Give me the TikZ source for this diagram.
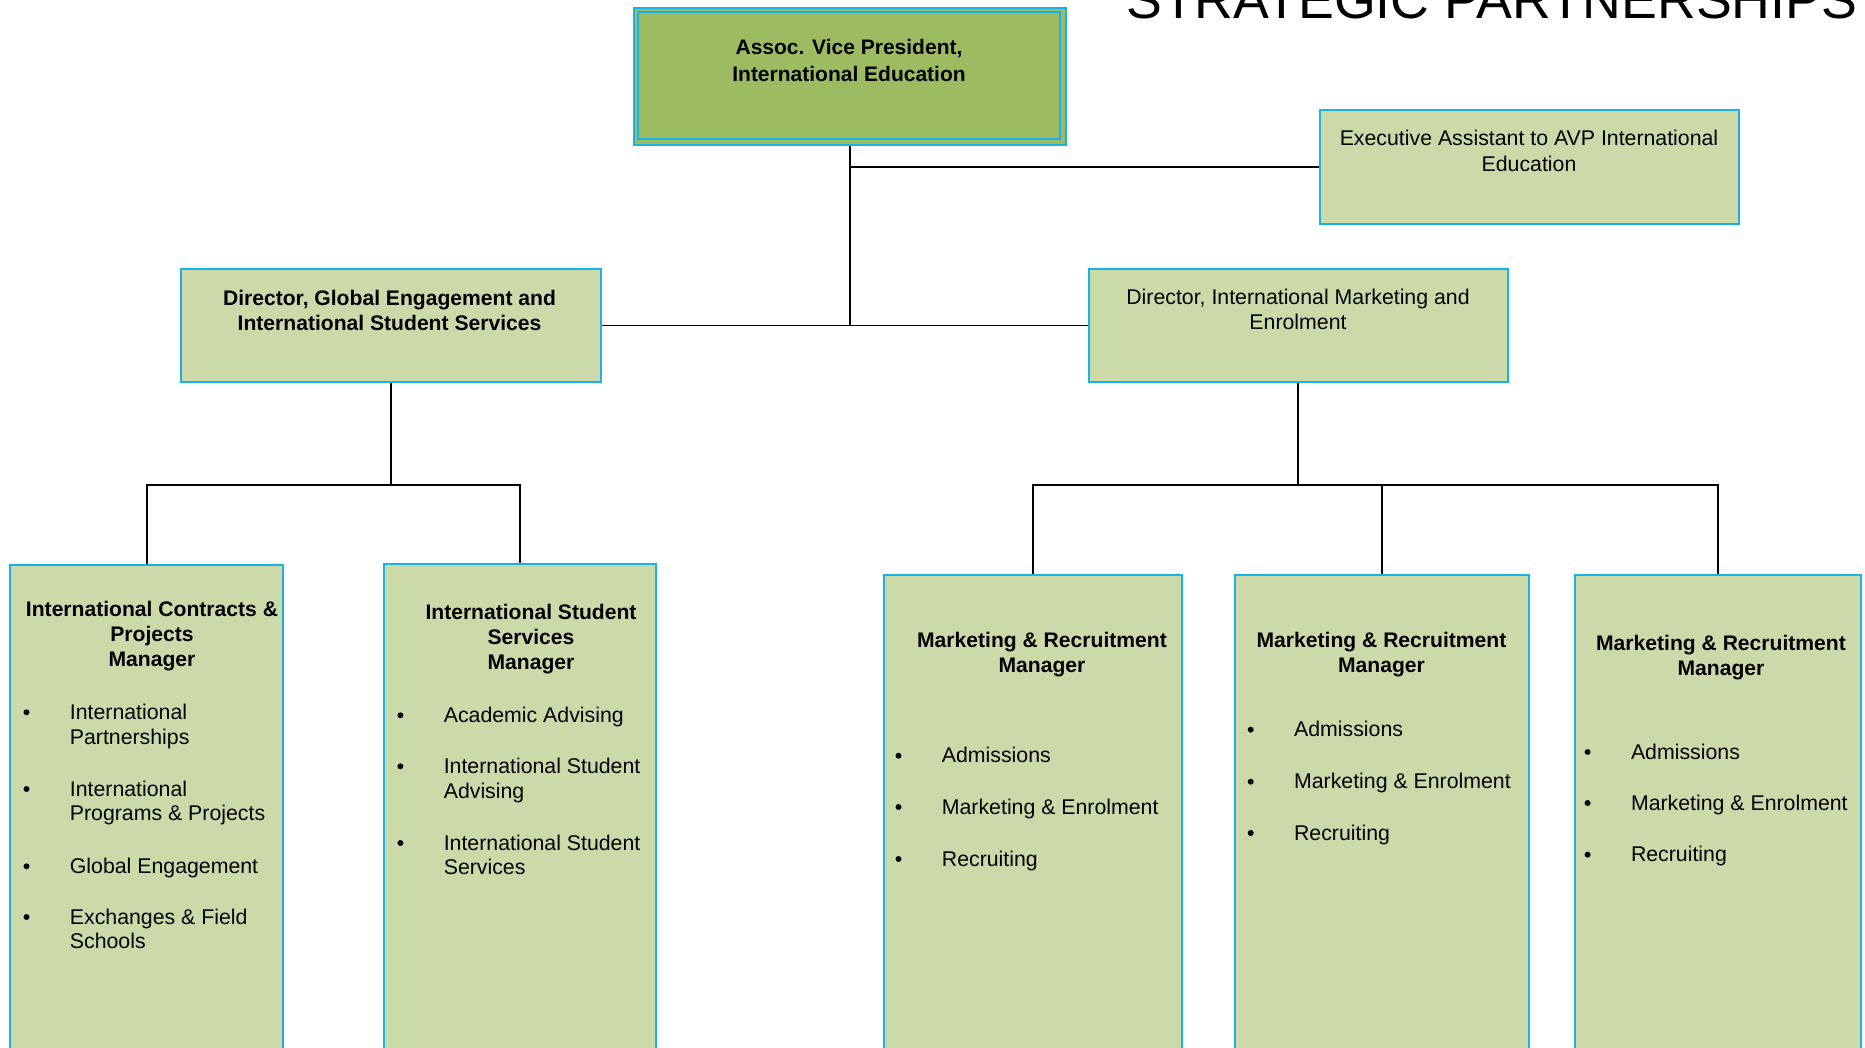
\documentclass[tikz,border=0pt]{standalone}
\usepackage{fontspec}
\setmainfont{Liberation Sans}
\definecolor{boxfill}{RGB}{204,218,170}
\definecolor{avpfill}{RGB}{157,187,97}
\definecolor{boxline}{RGB}{24,178,234}
\newcommand\linesC[1]{\begin{tabular}[t]{@{}c@{}}#1\end{tabular}}
\newcommand\linesL[1]{\begin{tabular}[t]{@{}l@{}}#1\end{tabular}}
\newcommand\bitem[4]{\node[itemtext] (#1) at (#2,#3) {\linesL{#4}};\fill (#2-43.2,#3-7) circle (3pt);}
\begin{document}
\begin{tikzpicture}[x=1pt,y=-1pt,
 box/.style={draw=boxline, line width=2pt, fill=boxfill, rectangle, anchor=north west, inner sep=0pt},
 conn/.style={draw=black, line width=1.8pt},
 hdr/.style={font=\fontsize{21.1}{25.3}\selectfont\bfseries, inner sep=0pt, anchor=base},
 reg/.style={font=\fontsize{21.3}{25.3}\selectfont, inner sep=0pt, anchor=base},
 itemtext/.style={font=\fontsize{21.3}{24.7}\selectfont, inner sep=0pt, anchor=base west}]
\clip (0,0) rectangle (1865,1048);
\fill[white] (0,0) rectangle (1865,1048);

% title
\node[font=\fontsize{53.7}{60}\selectfont, inner sep=0pt, anchor=base west] (title) at (1126,18.5) {STRATEGIC PARTNERSHIPS};

% boxes
\node[box, fill=avpfill, minimum width=432pt, minimum height=137pt] (avp) at (633,7) {};
\draw[boxline, line width=2pt] (638,12) rectangle (1060,139);
\node[box, minimum width=419.3pt, minimum height=114pt] (ea) at (1318.7,108.7) {};
\node[box, minimum width=419.5pt, minimum height=113pt] (dg) at (180,268) {};
\node[box, minimum width=419.5pt, minimum height=113pt] (dm) at (1087.5,268) {};
\node[box, minimum width=272.6pt, minimum height=520pt] (icpm) at (9.4,564.3) {};
\node[box, minimum width=272pt, minimum height=520pt] (issm) at (383,562.7) {};
\node[box, minimum width=298.3pt, minimum height=520pt] (mrma) at (882.7,574) {};
\node[box, minimum width=294.4pt, minimum height=520pt] (mrmb) at (1233.6,574) {};
\node[box, minimum width=285.7pt, minimum height=520pt] (mrmc) at (1574.3,574) {};

% connectors
\draw[conn] (avp.south) -- (avp.south |- dg.east);
\draw[conn] (dg.east) -- (dm.west);
\draw[conn] (avp.south |- ea.west) -- (ea.west);
\path (dg.south) ++(0,102) coordinate (lj);
\draw[conn] (dg.south) -- (lj);
\draw[conn] (icpm.north) |- (lj) -| (issm.north);
\path (dm.south) ++(0,102) coordinate (rj);
\draw[conn] (dm.south) -- (rj);
\draw[conn] (mrma.north) |- (rj) -| (mrmc.north);
\draw[conn] (mrmb.north) -- (mrmb.north |- rj);

% box texts
\node[hdr, font=\fontsize{21}{26.7}\selectfont\bfseries] (avpt) at (849,55) {\linesC{Assoc. Vice President,\\International Education}};
\node[reg, font=\fontsize{21.3}{25.7}\selectfont] (eat) at (1529,146) {\linesC{Executive Assistant to AVP International\\Education}};
\node[hdr, font=\fontsize{21.1}{24.7}\selectfont\bfseries] (dgt) at (389.5,306) {\linesC{Director, Global Engagement and\\International Student Services}};
\node[reg, font=\fontsize{21.3}{25}\selectfont] (dmt) at (1298,305) {\linesC{Director, International Marketing and\\Enrolment}};

\node[hdr] (icpmt) at (152,616) {\linesC{International Contracts \&\\Projects\\Manager}};
\node[hdr, font=\fontsize{21.1}{25}\selectfont\bfseries] (issmt) at (531,619.3) {\linesC{International Student\\Services\\Manager}};
\node[hdr] (mrmat) at (1042,647.3) {\linesC{Marketing \& Recruitment\\Manager}};
\node[hdr] (mrmbt) at (1381.5,647.3) {\linesC{Marketing \& Recruitment\\Manager}};
\node[hdr] (mrmct) at (1721,650) {\linesC{Marketing \& Recruitment\\Manager}};

% bullet items
\bitem{ia}{69.7}{719.3}{International\\Partnerships}
\bitem{ib}{69.7}{796}{International\\Programs \& Projects}
\bitem{ic}{69.7}{873.3}{Global Engagement}
\bitem{id}{69.7}{924}{Exchanges \& Field\\Schools}

\bitem{sa}{443.6}{722.3}{Academic Advising}
\bitem{sb}{443.6}{773.3}{International Student\\Advising}
\bitem{sc}{443.6}{850}{International Student\\Services}

\bitem{ma}{941.7}{762.7}{Admissions}
\bitem{mb}{941.7}{814}{Marketing \& Enrolment}
\bitem{mc}{941.7}{866}{Recruiting}

\bitem{na}{1293.9}{736.7}{Admissions}
\bitem{nb}{1293.9}{788.7}{Marketing \& Enrolment}
\bitem{nc}{1293.9}{840}{Recruiting}

\bitem{oa}{1630.8}{759}{Admissions}
\bitem{ob}{1630.8}{810}{Marketing \& Enrolment}
\bitem{oc}{1630.8}{861.7}{Recruiting}
\end{tikzpicture}
\end{document}
